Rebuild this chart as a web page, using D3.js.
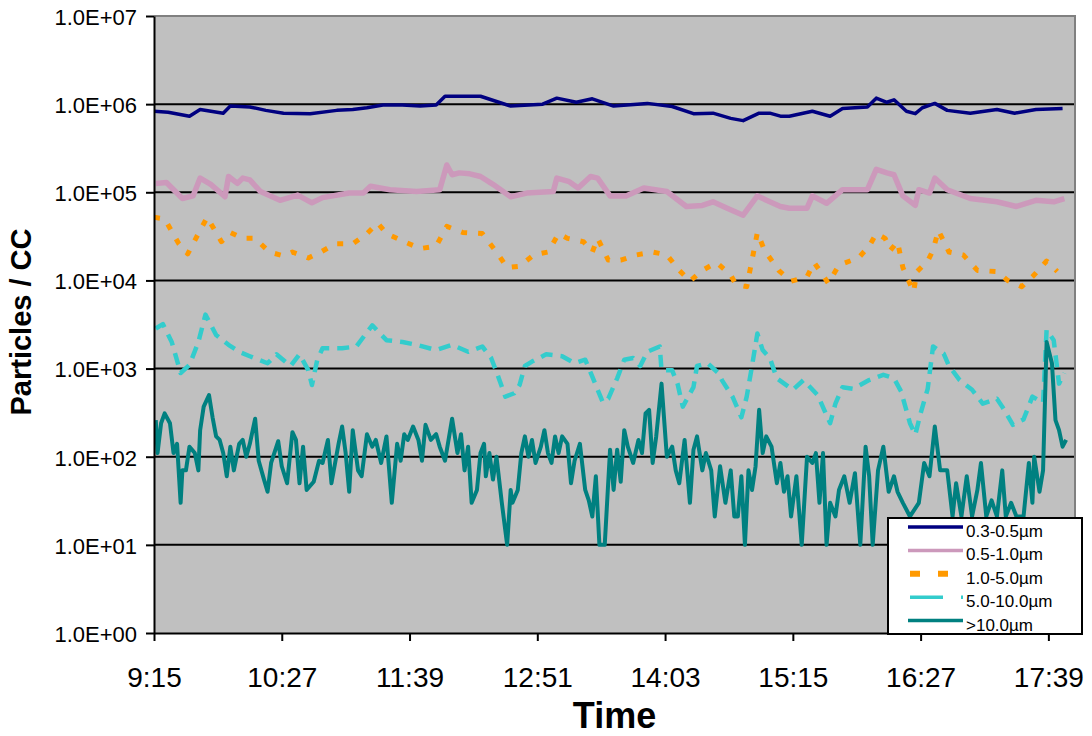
<!DOCTYPE html>
<html>
<head>
  <meta charset="utf-8">
  <title>Particles / CC</title>
  <script src="https://d3js.org/d3.v7.min.js"></script>
  <style>
    body { margin: 0; background: #fff; }
    text { font-family: "Liberation Sans", Arial, sans-serif; }
  </style>
</head>
<body>
  <svg width="1092" height="736"></svg>
  <script>
// Axis ticks: minutes after 9:15 and their labels
const xTickMinutes = [0, 72, 144, 216, 288, 360, 432, 504];
const xTickLabels = ['9:15', '10:27', '11:39', '12:51', '14:03', '15:15', '16:27', '17:39'];
const yTickValues = [1, 10, 100, 1e3, 1e4, 1e5, 1e6, 1e7];
const yTickLabels = ['1.0E+00', '1.0E+01', '1.0E+02', '1.0E+03', '1.0E+04', '1.0E+05', '1.0E+06', '1.0E+07'];

const seriesNames = ['0.3-0.5µm', '0.5-1.0µm', '1.0-5.0µm', '5.0-10.0µm', '>10.0µm'];

// 0.3-0.5um (minutes after 9:15, particles/cc)
const min03 = [0,8,20,26,39,43,54,63,73,88,103,112,120,129,140,150,159,164,178,184,
  201,219,227,238,247,259,278,292,304,315,325,332,341,347,353,358,371,381,388,402,
  407,413,417,424,429,433,440,447,460,475,485,497,512];
const val03 = [8.3e5,8.1e5,7.3e5,8.7e5,7.9e5,9.5e5,9.3e5,8.5e5,7.9e5,7.8e5,8.5e5,8.7e5,9.1e5,9.8e5,9.8e5,9.5e5,9.8e5,1.23e6,1.23e6,1.23e6,
  9.5e5,1.0e6,1.17e6,1.05e6,1.15e6,9.5e5,1.02e6,9.4e5,7.8e5,7.9e5,6.9e5,6.5e5,7.9e5,7.9e5,7.3e5,7.3e5,8.3e5,7.3e5,8.9e5,9.3e5,
  1.17e6,1.05e6,1.12e6,8.3e5,7.8e5,9.1e5,1.02e6,8.5e5,7.9e5,8.7e5,7.9e5,8.7e5,8.9e5];

// 0.5-1.0um
const min05 = [1,7,16,22,26,32,40,42,47,50,54,60,71,81,89,95,110,118,122,133,
  148,161,165,168,172,178,184,191,201,210,225,227,234,239,246,250,257,266,276,289,
  300,309,315,323,332,340,347,353,358,368,371,379,388,402,407,413,417,422,429,431,
  437,440,447,460,475,486,497,507,513];
const val05 = [1.26e5,1.29e5,8.5e4,9.1e4,1.45e5,1.23e5,8.9e4,1.51e5,1.26e5,1.45e5,1.38e5,1.02e5,8.1e4,9.3e4,7.6e4,8.7e4,9.8e4,9.8e4,1.17e5,1.07e5,
  1.02e5,1.07e5,2.04e5,1.58e5,1.66e5,1.62e5,1.51e5,1.23e5,8.9e4,9.8e4,1.02e5,1.45e5,1.32e5,1.12e5,1.51e5,1.45e5,9.1e4,9.1e4,1.12e5,1.02e5,
  6.9e4,7.1e4,7.8e4,6.6e4,5.5e4,9.1e4,7.8e4,6.9e4,6.6e4,6.6e4,9.1e4,7.5e4,1.07e5,1.07e5,1.82e5,1.66e5,1.58e5,9.1e4,7.1e4,1.07e5,
  9.8e4,1.45e5,1.07e5,8.5e4,7.8e4,6.9e4,8.1e4,7.8e4,8.5e4];

// 1.0-5.0um
const min10 = [0,6,14,19,25,30,38,43,50,57,65,73,78,87,94,102,112,120,126,131,
  141,150,159,165,174,185,193,199,206,214,222,228,233,242,247,250,256,263,272,281,
  289,296,302,309,317,325,328,334,337,340,344,352,359,368,372,380,386,397,403,407,
  412,415,419,422,428,430,436,439,442,448,456,464,475,481,489,495,503,509];
const val10 = [5.2e4,5.0e4,2.6e4,2.0e4,3.4e4,5.2e4,2.75e4,3.5e4,3.0e4,3.0e4,2.1e4,1.9e4,2.1e4,1.8e4,2.1e4,2.6e4,2.6e4,3.4e4,4.5e4,3.4e4,
  2.75e4,2.3e4,2.45e4,4.1e4,3.5e4,3.4e4,2.1e4,1.4e4,1.45e4,1.95e4,2.1e4,3.4e4,3.0e4,2.75e4,2.1e4,3.0e4,1.7e4,1.7e4,1.95e4,2.1e4,
  1.95e4,1.3e4,9.8e3,1.3e4,1.6e4,1.15e4,8.9e3,8.5e3,1.7e4,3.5e4,2.2e4,1.3e4,9.8e3,1.1e4,1.6e4,9.3e3,1.5e4,1.8e4,2.45e4,3.4e4,
  3.0e4,2.2e4,2.75e4,1.4e4,7.4e3,1.26e4,1.66e4,2.2e4,3.7e4,2.1e4,1.95e4,1.3e4,1.26e4,1.0e4,8.5e3,1.1e4,1.66e4,1.26e4];

// 5.0-10.0um
const min50 = [1,5,10,15,20,25,29,35,42,48,54,64,69,77,82,87,89,92,95,106,
  114,123,131,140,148,159,168,177,185,190,194,198,203,206,209,213,221,230,237,243,
  247,250,253,256,261,265,270,274,278,285,286,292,295,298,304,306,312,318,320,326,
  331,334,337,340,343,347,351,360,366,374,381,384,388,394,403,411,417,421,426,429,
  432,436,439,445,448,454,461,467,475,478,484,490,495,501,503,507,510,513];
const val50 = [2850,3200,2000,890,1100,2000,4100,2400,1860,1550,1380,1150,1450,1070,1450,955,650,1260,1700,1700,
  1780,3100,2100,2000,1860,1620,1860,1550,1780,1320,810,480,525,650,1070,1200,1450,1380,1150,1260,
  810,575,410,455,775,1260,1320,1070,1550,1780,955,955,675,370,615,1070,1150,890,740,480,
  280,480,1070,2500,1620,1320,775,575,740,500,240,400,615,590,740,850,775,550,240,178,
  310,590,1780,1480,1070,740,575,400,455,370,230,265,480,410,2750,2100,675,890];

// >10.0um
const min100 = [1,2,4,6,9,11,13,15,16,18, 20,23,25,26,28,31,33,35,37,39,
  41,43,45,48,50,52,54,57,59,62, 64,66,70,72,75,78,80,82,84,86,
  90,93,95,98,100,104,106,108,110,112, 115,117,120,123,125,128,131,134,137,139,
  141,143,146,149,151,153,156,159,161,164, 168,171,173,175,177,179,182,184,186,187,
  189,191,193,196,199,201,202,205,207,209, 211,213,215,218,220,222,224,226,228,230,
  233,235,237,240,243,245,247,249,251,254, 257,259,261,263,265,267,270,273,275,277,
  279,281,283,286,289,292,294,296,299,302, 304,306,309,311,314,316,319,322,325,327,
  329,331,333,335,337,339,341,343,345,348, 351,353,355,357,359,362,365,368,371,373,
  375,377,379,381,384,386,389,392,395,398, 401,403,405,408,411,414,417,419,422,426,
  431,434,437,440,443,447,450,452,455,458, 461,464,466,469,472,475,478,480,483,486,
  490,493,495,496,499,501,503,506,508,510, 512,514];
const val100 = [260,110,240,310,240,110,140,30,70,70, 130,110,70,200,370,500,280,170,155,110,
  60,130,70,140,155,100,140,270,90,55, 40,85,150,78,50,190,155,50,130,42,
  52,90,85,155,50,140,220,110,40,200, 70,60,180,130,155,85,170,30,140,90,
  180,155,220,155,90,230,155,180,130,90, 270,110,180,70,130,30,42,110,140,60,
  110,55,100,30,10,42,30,42,110,170, 100,155,85,130,200,110,85,170,110,170,
  140,50,90,140,42,32,21,60,10,10, 120,42,120,52,200,130,85,155,110,310,
  340,85,170,675,100,130,70,50,155,30, 120,170,70,110,70,21,78,30,70,21,
  21,60,10,70,42,78,340,110,170,130, 50,85,40,60,21,60,10,100,85,110,
  30,110,10,30,21,42,60,30,65,10, 130,60,10,70,130,40,60,40,30,21,
  30,85,60,220,70,70,21,50,21,60, 21,42,85,21,32,21,70,21,30,21,
  21,85,30,100,40,70,2000,1150,260,200, 130,155];

// Plot area
const plotLeft = 154, plotTop = 16, plotRight = 1075, plotBottom = 633;
const width = plotRight - plotLeft;
const height = plotBottom - plotTop;

const svg = d3.select('svg');
const g = svg.append('g')
  .attr('transform', `translate(${plotLeft},${plotTop})`);

const xScale = d3.scaleLinear().domain([0, 519]).range([0, width]);
const yScale = d3.scaleLog().domain([1, 1e7]).range([height, 0]);

g.append('rect')
  .attr('width', width)
  .attr('height', height)
  .attr('fill', '#c0c0c0');

// horizontal gridlines at every decade
g.selectAll('.grid')
  .data(yTickValues.slice(1, -1))
  .join('line')
  .attr('class', 'grid')
  .attr('x1', 0).attr('x2', width)
  .attr('y1', d => yScale(d)).attr('y2', d => yScale(d))
  .attr('stroke', '#000')
  .attr('stroke-width', 2);

svg.append('clipPath').attr('id', 'plotclip')
  .append('rect').attr('width', width).attr('height', height);

// series table built from the arrays
const series = [
  { name: seriesNames[0], min: min03, val: val03, color: '#000080', w: 3.5, dash: null, legDash: null },
  { name: seriesNames[1], min: min05, val: val05, color: '#cc99bb', w: 5.5, dash: null, legDash: null },
  { name: seriesNames[2], min: min10, val: val10, color: '#ff9900', w: 5, dash: '6,11', legDash: '10,18' },
  { name: seriesNames[3], min: min50, val: val50, color: '#33cccc', w: 4.5, dash: '12,8', legDash: '33,18' },
  { name: seriesNames[4], min: min100, val: val100, color: '#008080', w: 4, dash: null, legDash: null }
];

const line = d3.line()
  .x(d => xScale(d[0]))
  .y(d => yScale(d[1]));

const lines = g.append('g').attr('clip-path', 'url(#plotclip)');
series.forEach(s => {
  lines.append('path')
    .datum(d3.zip(s.min, s.val))
    .attr('fill', 'none')
    .attr('stroke', s.color)
    .attr('stroke-width', s.w)
    .attr('stroke-dasharray', s.dash)
    .attr('stroke-linejoin', 'round')
    .attr('d', line);
});

// grey frame on top and right
g.append('path')
  .attr('d', `M0,0H${width}V${height}`)
  .attr('fill', 'none')
  .attr('stroke', '#808080')
  .attr('stroke-width', 2);

// axes
const xAxis = d3.axisBottom(xScale)
  .tickValues(xTickMinutes)
  .tickFormat((d, i) => xTickLabels[i])
  .tickSize(8).tickSizeOuter(0).tickPadding(26);

const yAxis = d3.axisLeft(yScale)
  .tickValues(yTickValues)
  .tickFormat((d, i) => yTickLabels[i])
  .tickSize(8).tickSizeOuter(0).tickPadding(9);

const gx = g.append('g')
  .attr('transform', `translate(0,${height})`)
  .call(xAxis);
gx.selectAll('text').attr('font-size', 28).attr('fill', '#000')
  .attr('font-family', '"Liberation Sans", Arial, sans-serif');

const gy = g.append('g').call(yAxis);
gy.selectAll('text').attr('font-size', 22).attr('fill', '#000').attr('dy', '0.38em')
  .attr('font-family', '"Liberation Sans", Arial, sans-serif');

[gx, gy].forEach(a => {
  a.selectAll('path, line').attr('stroke', '#000').attr('stroke-width', 2);
});

// axis titles
svg.append('text')
  .attr('x', (plotLeft + plotRight) / 2)
  .attr('y', 728)
  .attr('text-anchor', 'middle')
  .attr('font-size', 36)
  .attr('font-weight', 'bold')
  .text('Time');

svg.append('text')
  .attr('transform', 'translate(31,322) rotate(-90)')
  .attr('text-anchor', 'middle')
  .attr('font-size', 29)
  .attr('font-weight', 'bold')
  .text('Particles / CC');

// legend
const legend = svg.append('g');
legend.append('rect')
  .attr('x', 888).attr('y', 518)
  .attr('width', 194).attr('height', 116)
  .attr('fill', '#fff')
  .attr('stroke', '#000')
  .attr('stroke-width', 2);

series.forEach((s, i) => {
  const ly = 527 + i * 23.4;
  legend.append('line')
    .attr('x1', s.legDash ? 910 : 908)
    .attr('x2', s.legDash === '10,18' ? 948 : 963)
    .attr('y1', ly).attr('y2', ly)
    .attr('stroke', s.color)
    .attr('stroke-width', s.legDash === '10,18' ? 6 : 3.5)
    .attr('stroke-dasharray', s.legDash);
  legend.append('text')
    .attr('x', 966)
    .attr('y', ly + 10)
    .attr('font-size', 17)
    .text(s.name);
});
  </script>
</body>
</html>
